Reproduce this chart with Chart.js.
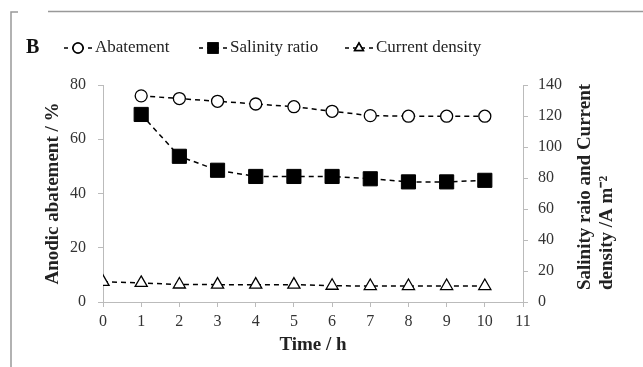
<!DOCTYPE html>
<html>
<head>
<meta charset="utf-8">
<script src="https://cdn.jsdelivr.net/npm/chart.js@4"></script>
<style>
  html, body { margin: 0; padding: 0; background: #fff; }
  #chart { display: block; }
</style>
</head>
<body>
<canvas id="chart" width="643" height="367"></canvas>
<script>
// données
const timeH = [0, 1, 2, 3, 4, 5, 6, 7, 8, 9, 10];
const abatement = [null, 76, 75, 74, 73, 72, 70.3, 68.7, 68.5, 68.5, 68.5];
const salinityRatio = [null, 121, 94, 85, 81, 81, 81, 79.5, 77.5, 77.5, 78.5];
const currentDensity = [13, 12.3, 11.3, 11.2, 11.2, 11.2, 10.5, 10.3, 10.3, 10.3, 10.3];

const legendLabels = ['Abatement', 'Salinity ratio', 'Current density'];
const leftTitle = 'Anodic abatement / %';
const rightTitle = ['Salinity raio and Current', 'density /A m\u207B\u00B2'];

const serif = '"Liberation Serif", "Times New Roman", serif';

function toPoints(arr) {
    const pts = [];
    arr.forEach(function(v, i) {
        if (v !== null) pts.push({ x: timeH[i], y: v });
    });
    return pts;
}

const lineStyle = {
    borderColor: '#000',
    borderWidth: 1.5,
    borderDash: [5, 4],
    tension: 0,
    fill: false
};

// cadre, lettre B, légende et titre de droite
const decorPlugin = {
    id: 'decor',
    afterDraw(chart) {
        const ctx = chart.ctx;
        ctx.save();
        // cadre
        ctx.strokeStyle = '#999';
        ctx.lineWidth = 1.5;
        ctx.beginPath();
        ctx.moveTo(11, 367); ctx.lineTo(11, 12); ctx.lineTo(18, 12);
        ctx.moveTo(48, 11.5); ctx.lineTo(643, 11.5);
        ctx.stroke();

        // B
        ctx.fillStyle = '#111';
        ctx.font = 'bold 20px ' + serif;
        ctx.textBaseline = 'middle';
        ctx.textAlign = 'left';
        ctx.fillText('B', 26, 48);

        // légende
        const items = [
            { x: 78, style: 'circle', fill: '#fff' },
            { x: 213, style: 'rect', fill: '#000' },
            { x: 359, style: 'triangle', fill: '#fff' }
        ];
        ctx.font = '17px ' + serif;
        items.forEach(function(it, i) {
            ctx.strokeStyle = '#000';
            ctx.lineWidth = 1.5;
            ctx.setLineDash([4, 4]);
            ctx.beginPath();
            ctx.moveTo(it.x - 14, 48); ctx.lineTo(it.x + 14, 48);
            ctx.stroke();
            ctx.setLineDash([]);
            Chart.helpers.drawPoint(ctx, {
                pointStyle: it.style,
                radius: it.style === 'rect' ? 7 : 5,
                borderWidth: 1.3,
                rotation: 0
            }, it.x, 48);
            ctx.fillStyle = it.fill;
            ctx.fill();
            ctx.stroke();
            ctx.fillStyle = '#222';
            ctx.fillText(legendLabels[i], it.x + 17, 48);
        });

        // titre de l'axe de droite (lu de bas en haut)
        ctx.font = 'bold 19px ' + serif;
        ctx.fillStyle = '#222';
        ctx.translate(0, 0);
        rightTitle.forEach(function(txt, i) {
            ctx.save();
            ctx.translate(585 + i * 22, 290);
            ctx.rotate(-Math.PI / 2);
            ctx.textAlign = 'left';
            ctx.textBaseline = 'middle';
            ctx.fillText(txt, 0, 0);
            ctx.restore();
        });
        ctx.restore();
    }
};

const tickFont = { family: serif, size: 16 };

const config = {
    type: 'line',
    data: {
        datasets: [
            Object.assign({
                label: legendLabels[0],
                data: toPoints(abatement),
                yAxisID: 'yLeft',
                pointStyle: 'circle',
                pointRadius: 6,
                pointBackgroundColor: '#fff',
                pointBorderColor: '#000',
                pointBorderWidth: 1.3
            }, lineStyle),
            Object.assign({
                label: legendLabels[1],
                data: toPoints(salinityRatio),
                yAxisID: 'yRight',
                pointStyle: 'rect',
                pointRadius: 10,
                pointBackgroundColor: '#000',
                pointBorderColor: '#000',
                pointBorderWidth: 1
            }, lineStyle),
            Object.assign({
                label: legendLabels[2],
                data: toPoints(currentDensity),
                yAxisID: 'yRight',
                pointStyle: 'triangle',
                pointRadius: 7,
                pointBackgroundColor: '#fff',
                pointBorderColor: '#000',
                pointBorderWidth: 1.3
            }, lineStyle)
        ]
    },
    options: {
        responsive: false,
        animation: false,
        layout: { padding: { top: 85, left: 0, right: 0, bottom: 0 } },
        plugins: {
            legend: { display: false },
            tooltip: { enabled: false }
        },
        scales: {
            x: {
                type: 'linear',
                min: 0,
                max: 11,
                afterFit(scale) { scale.height = 65; },
                ticks: { stepSize: 1, color: '#333', font: tickFont, padding: 5, maxRotation: 0 },
                grid: { drawOnChartArea: false, tickLength: 5, color: '#bbb' },
                border: { color: '#bbb', width: 1 },
                title: {
                    display: true,
                    text: 'Time / h',
                    color: '#222',
                    font: { family: serif, size: 19, weight: 'bold' },
                    padding: { top: 0, bottom: 11 }
                }
            },
            yLeft: {
                position: 'left',
                min: 0,
                max: 80,
                afterFit(scale) { scale.width = 103; },
                ticks: { stepSize: 20, color: '#333', font: tickFont, padding: 12 },
                grid: { drawOnChartArea: false, tickLength: 5, color: '#bbb' },
                border: { color: '#bbb', width: 1 },
                title: {
                    display: true,
                    text: leftTitle,
                    color: '#222',
                    font: { family: serif, size: 19, weight: 'bold' },
                    padding: { top: 42, bottom: 0 }
                }
            },
            yRight: {
                position: 'right',
                min: 0,
                max: 140,
                afterFit(scale) { scale.width = 120; },
                ticks: { stepSize: 20, color: '#333', font: tickFont, padding: 10 },
                grid: { drawOnChartArea: false, tickLength: 5, color: '#bbb' },
                border: { color: '#bbb', width: 1 }
            }
        }
    },
    plugins: [decorPlugin]
};

new Chart(document.getElementById('chart'), config);
</script>
</body>
</html>
